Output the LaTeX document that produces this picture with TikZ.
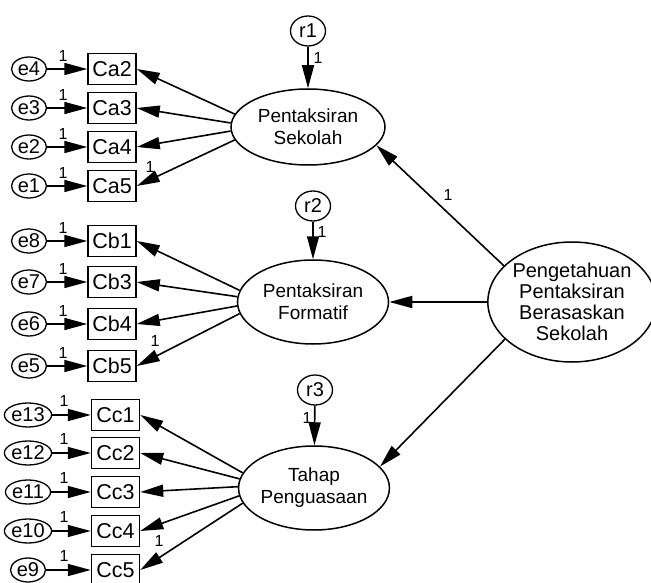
\documentclass[tikz,border=0pt]{standalone}
\usepackage{fontspec}
\setmainfont{Liberation Sans}
\usetikzlibrary{arrows.meta,shapes.geometric}
\begin{document}
\begin{tikzpicture}[x=1pt,y=-1pt,
  every node/.style={font=\fontsize{19}{22}\selectfont, inner sep=0pt},
  obs/.style={draw, line width=1.5pt, minimum width=48pt, minimum height=31pt, font=\fontsize{21.5}{22}\selectfont},
  err/.style={draw, ellipse, line width=1.3pt, minimum width=35pt, minimum height=24pt, font=\fontsize{20}{22}\selectfont},
  res/.style={draw, ellipse, line width=1.3pt, minimum width=35pt, minimum height=30pt, font=\fontsize{20}{22}\selectfont},
  lat/.style={draw, ellipse, line width=1.5pt, align=center},
  arr/.style={line width=1.6pt, -{Triangle[length=23pt 0 0,width=12pt 0 0]}},
  one/.style={font=\fontsize{16}{16}\selectfont}
]
\useasboundingbox (0,0) rectangle (651,583);

% latent variables
\node[lat, minimum width=154pt, minimum height=76pt] (S) at (308,127) {Pentaksiran\\Sekolah};
\node[lat, minimum width=151pt, minimum height=84pt] (F) at (313,302) {Pentaksiran\\Formatif};
\node[lat, minimum width=150pt, minimum height=84pt] (T) at (314,488) {Tahap\\Penguasaan};
\node[lat, minimum width=158pt, minimum height=120pt, font=\fontsize{20}{21}\selectfont] (P) at (572,302) {Pengetahuan\\Pentaksiran\\Berasaskan\\Sekolah};

% residuals
\node[res] (r1) at (308,31) {r1};
\node[res] (r2) at (313,206) {r2};
\node[res] (r3) at (315,390) {r3};
\draw[arr] (r1) -- (S);
\draw[arr] (r2) -- (F);
\draw[arr] (r3) -- (T);
\node[one] (l1) at (318,58) {1};
\node[one] (l2) at (322,232) {1};
\node[one] (l3) at (307,418) {1};

% structural paths
\draw[arr] (P.152) -- (S.-15);
\draw[arr] (P.west) -- (F.east);
\draw[arr] (P.209) -- (T.18);
\node[one] (ls) at (448,195) {1};

% Ca block
\foreach \nm/\en/\y/\a in {Ca2/e4/69/170, Ca3/e3/108/177, Ca4/e2/147/183, Ca5/e1/186/190}{
  \node[obs] (\nm) at (112,\y) {\nm};
  \node[err] (\en) at (29,\y) {\en};
  \draw[arr] (\en) -- (\nm);
  \draw[arr] (S.\a) -- (\nm.east);
  \node[one] at (63,\y-13) {1};
}
\node[one] (la) at (150,167) {1};

% Cb block
\foreach \nm/\en/\y/\a in {Cb1/e8/241/171, Cb3/e7/282/176, Cb4/e6/324/183, Cb5/e5/366/189}{
  \node[obs] (\nm) at (112,\y) {\nm};
  \node[err] (\en) at (29,\y) {\en};
  \draw[arr] (\en) -- (\nm);
  \draw[arr] (F.\a) -- (\nm.east);
  \node[one] at (63,\y-13) {1};
}
\node[one] (lb) at (155,341) {1};

% Cc block
\foreach \nm/\en/\y/\a in {Cc1/e13/415/168, Cc2/e12/453/173, Cc3/e11/492/179, Cc4/e10/531/186, Cc5/e9/570/192}{
  \node[obs] (\nm) at (115.5,\y) {\nm};
  \node[err] (\en) at (28,\y) {\en};
  \draw[arr] (\en) -- (\nm);
  \draw[arr] (T.\a) -- (\nm.east);
  \node[one] at (64,\y-14) {1};
}
\node[one] (lc) at (159,541) {1};
\end{tikzpicture}
\end{document}
